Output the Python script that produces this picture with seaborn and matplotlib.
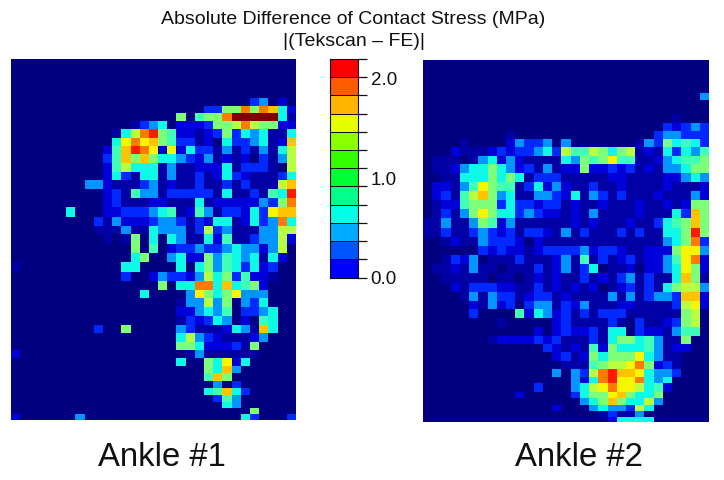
import numpy as np
import matplotlib
matplotlib.use("Agg")
import matplotlib.pyplot as plt
from matplotlib.colors import ListedColormap
import seaborn as sns

plt.rcParams['font.family'] = ['Liberation Sans', 'DejaVu Sans']

W, H = 724, 480
Z = "0"

# each character is one cell, a level index into LEVEL_MPA (hex digit)
LEVEL_MPA = [0, .084, .19, .40, .65, .89, 1.03, 1.2, 1.37, 1.56, 1.68, 1.87, 2.11, 2.4]
VMAX = 2.4

ankle1 = [
    Z*31, Z*31, Z*31, Z*31, Z*31,
    Z*26 + "34020",
    Z*21 + "3377b7ba52",
    Z*18 + "70677bddddd51",
    Z*13 + "134502223778b87722",
    Z*11 + "158bc762212373545115",
    Z*11 + "59b9a76331205334512a",
    Z*10 + "26acb9292533141314158",
    Z*10 + "36a7a7554324121203148",
    Z*10 + "268555141122251333108",
    Z*10 + "253155141131253211135",
    Z*8 + "44" + "2111341211311313" + "1118a",
    Z*10 + "231644133333" + "151131" + "65c",
    Z*10 + "231112211151" + "222224" + "37b",
    Z*6 + "5" + Z*3 + "2233345612641332" + "539aa",
    Z*9 + "3" + "1422234431325512" + "534b5",
    Z*9 + "1" + "1141154441383411" + "14488",
    Z*10 + "101705054115261134482",
    Z*13 + "706023343345442480",
    Z*13 + "570045227465451520",
    "1" + Z*11 + "55" + Z*4 + "5057465352300",
    Z*12 + "3002433248573622100",
    Z*16 + "7055bb5a5672000",
    Z*14 + "5" + Z*4 + "497579444" + Z*3,
    Z*18 + "1448470435000",
    Z*18 + "2245460334500",
    Z*18 + "1323540206500",
    Z*9 + "3" + Z*2 + "7" + Z*5 + "431112541a500",
    Z*18 + "5843211124000",
    Z*18 + "7752223170000",
    "2" + Z*18 + "14" + "111111" + Z*4,
    Z*18 + "5007592500000",
    Z*21 + "75a4000000",
    Z*21 + "6a70000000",
    Z*22 + "403000000",
    Z*21 + "56a5300000",
    Z*22 + "364000000",
    Z*23 + "54000000",
    Z*26 + "70000",
    "2" + Z*6 + "4" + Z*17 + "53" + Z*3 + "3",
]

ankle2 = [
    Z*31, Z*31, Z*31, Z*31,
    Z*30 + "4",
    Z*31, Z*31,
    Z*27 + "1000",
    Z*26 + "32343",
    Z*9 + "1" + Z*15 + "344333",
    Z*4 + "1" + Z*4 + "24334" + "04" + Z*7 + "14" + "375653",
    Z*3 + "2111232334538668757812153546",
    Z + "111014524211115476796611245667",
    Z + "112455754231412272232312144577",
    Z*2 + "11555757513331111122111122454",
    Z + "221469766135242113112111121112",
    Z + "23168a745114432514313111211142",
    Z + "122677735332331211211121121277",
    Z + "13147975534322121411112111" + "53a7",
    "1141147624" + "1111112121" + "112113567a7",
    "1131134323" + "1332141311" + "131311557c7",
    Z*2 + "121143332021" + "111111111111" + "457b3",
    Z*6 + "3232212333" + "3423321122" + "27994",
    Z*2 + "1324011131" + "1124161312" + "3122469b2",
    Z + "1121411011" + "1312413501" + "1202245972",
    Z*2 + "1111101101" + "2121131213" + "413115a71",
    Z*3 + "2133322113" + "1212120123" + "13157884",
    Z*4 + "1414331233" + "1211114141" + "3443aa2",
    Z*5 + "2142303441" + "3241112211" + "113892",
    Z*5 + "3" + Z*4 + "625423131333111111780",
    Z*8 + "1" + Z*5 + "23111131031123780",
    Z*12 + "20" + "23223155032214660",
    Z*7 + "1222232311" + "1315775641" + "1700",
    Z*13 + "321216275556412200",
    Z*14 + "23127577795411000",
    Z*15 + "11167889b7231000",
    Z*14 + "40" + "438bcaa95443000",
    Z*16 + "425bc99b5450000",
    Z*12 + "3000" + "4589b9985620000",
    Z*10 + "2" + Z*5 + "35779a755700000",
    Z*17 + "457a7558400000",
    Z*14 + "2" + Z*3 + "4544385000000",
    Z*19 + "131140000000",
    Z*20 + "25555" + Z*6,
]

# the source grid is not evenly spaced: top edge of each row, in picture pixels
row_edges1 = [59, 67, 75, 83, 91, 98.3, 106, 113.3, 121, 129.3, 137.7, 146, 154.3, 162.7, 171.7,
              180, 189, 198.3, 207.3, 216.7, 225.7, 234.3, 244.3, 253.3, 262.3, 271.7, 280.7,
              290, 298.3, 307.3, 316, 325, 333.3, 341.7, 350, 357.7, 365.7, 373.3, 380.7,
              387.7, 395, 401.7, 407.7, 414, 420]
row_edges2 = [60, 68, 76, 84.5, 92.7, 100, 107.3, 115, 122.7, 131, 139.3, 147.3, 156, 164.3, 173.3,
              182.3, 191.3, 200, 209, 218.3, 227.7, 236.7, 246, 255, 264.3, 273.3, 282.7, 291.7,
              300.7, 309.3, 318.3, 326.7, 335.7, 344, 352.3, 360.7, 369, 376.7, 383.3, 391.7,
              398.3, 405, 411, 416.7, 422]

cbar_colors = ["#0000ff", "#0055ff", "#00aaff", "#00ffe6", "#00ff8c", "#00ff33",
               "#33ff00", "#8cff00", "#e6ff00", "#ffb400", "#ff5a00", "#ff0000"]
cbar_max = 2.2
cbar_labels = [0.0, 1.0, 2.0]

title_lines = ["Absolute Difference of Contact Stress (MPa)", "|(Tekscan \u2013 FE)|"]
panel_names = ["Ankle #1", "Ankle #2"]


def to_matrix(rows, edges):
    m = np.array([[LEVEL_MPA[int(c, 16)] for c in r[:31].ljust(31, "0")] for r in rows])
    counts = np.diff(np.round(np.array(edges) * 4)).astype(int)
    return np.repeat(m, counts, axis=0)


def axes_px(fig, x0, y0, x1, y1):
    return fig.add_axes([x0 / W, 1 - y1 / H, (x1 - x0) / W, (y1 - y0) / H])


fig = plt.figure(figsize=(W / 100, H / 100), dpi=100, facecolor="white")

for rows, edges, box in ((ankle1, row_edges1, (11, 59, 296, 420)),
                         (ankle2, row_edges2, (423, 60, 709, 422))):
    ax = axes_px(fig, *box)
    sns.heatmap(to_matrix(rows, edges), ax=ax, cmap="jet", vmin=0, vmax=VMAX, cbar=False,
                xticklabels=False, yticklabels=False, rasterized=True)
    ax.tick_params(length=0)

cax = axes_px(fig, 329.5, 59, 357.5, 277.5)
levels = np.arange(len(cbar_colors))[::-1].reshape(-1, 1)
sns.heatmap(levels, ax=cax, cmap=ListedColormap(cbar_colors), cbar=False,
            xticklabels=False, yticklabels=False, linewidths=0.7, linecolor="#101010")
for s in cax.spines.values():
    s.set_visible(True)
    s.set_color("#101010")
    s.set_linewidth(0.8)
cax.yaxis.tick_right()
cax.set_yticks(np.arange(len(cbar_colors) + 1))
cax.set_yticklabels([])
cax.tick_params(axis="y", length=6.5, width=0.9, color="#101010", right=True, left=False)
cax.tick_params(axis="x", length=0)
for v in cbar_labels:
    cax.text(1.47, v / cbar_max - 2 / 218.5, f"{v:.1f}", transform=cax.transAxes, ha="left",
             va="center", fontsize=13.5, color="#111111")

fig.text(353 / W, 1 - 19 / H, title_lines[0], ha="center", va="center", fontsize=14, color="#111111")
fig.text(354 / W, 1 - 41 / H, title_lines[1], ha="center", va="center", fontsize=14, color="#111111")
fig.text(162 / W, 1 - 458 / H, panel_names[0], ha="center", va="center", fontsize=23.7, color="#111111")
fig.text(579 / W, 1 - 458 / H, panel_names[1], ha="center", va="center", fontsize=23.7, color="#111111")

fig.savefig("out.png", dpi=100, facecolor="white")
